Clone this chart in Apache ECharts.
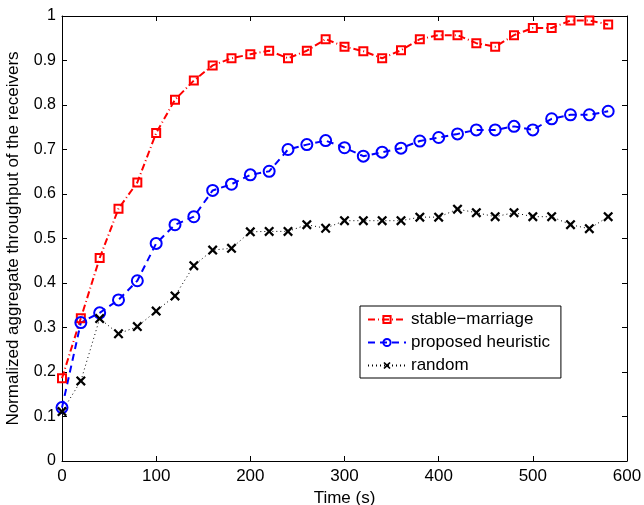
<!DOCTYPE html>
<html>
<head>
<meta charset="utf-8">
<script src="https://cdn.jsdelivr.net/npm/echarts@6/dist/echarts.min.js"></script>
<style>html,body{margin:0;padding:0;background:#fff}#c{width:644px;height:505px}</style>
</head>
<body>
<div id="c"></div>
<script>
const times = [0,20,40,60,80,100,120,140,160,180,200,220,240,260,280,300,320,340,360,380,400,420,440,460,480,500,520,540,560,580];
const stableMarriage = [0.186,0.321,0.456,0.567,0.626,0.737,0.812,0.855,0.889,0.905,0.914,0.922,0.905,0.922,0.948,0.931,0.921,0.905,0.923,0.948,0.957,0.957,0.939,0.931,0.957,0.973,0.973,0.990,0.990,0.981];
const proposedHeuristic = [0.120,0.311,0.333,0.362,0.405,0.489,0.531,0.549,0.608,0.622,0.643,0.651,0.700,0.711,0.720,0.704,0.685,0.694,0.703,0.719,0.727,0.735,0.744,0.744,0.752,0.744,0.769,0.778,0.778,0.786];
const randomSel = [0.111,0.180,0.320,0.286,0.302,0.337,0.371,0.439,0.474,0.478,0.515,0.516,0.516,0.531,0.523,0.540,0.540,0.540,0.540,0.548,0.548,0.566,0.558,0.549,0.558,0.549,0.549,0.531,0.522,0.549];
const seriesNames = ['stable\u2212marriage','proposed heuristic','random'];

const pair = arr => times.map((t,i)=>[t,arr[i]]);
const FONT = '"Liberation Sans", Arial, Helvetica, sans-serif';
const crossPath = 'path://M0,1.6L1.6,0L5,3.4L8.4,0L10,1.6L6.6,5L10,8.4L8.4,10L5,6.6L1.6,10L0,8.4L3.4,5Z';

const chart = echarts.init(document.getElementById('c'));
const axisCommon = {
  axisLine:{show:true,onZero:false,lineStyle:{color:'#000',width:1}},
  axisTick:{show:true,inside:true,length:5,lineStyle:{color:'#000'}},
  splitLine:{show:false}
};
chart.setOption({
  animation:false,
  backgroundColor:'#fff',
  textStyle:{fontFamily:FONT},
  grid:{left:62,right:17,top:16,bottom:44,containLabel:false,outerBoundsMode:'none'},
  legend:{
    orient:'vertical',left:360,top:306,
    backgroundColor:'#fff',borderColor:'#000',borderWidth:1,
    padding:[5,11,4,7],itemGap:6,itemWidth:38,itemHeight:9,
    textStyle:{fontFamily:FONT,fontSize:17,color:'#000'},
    data:seriesNames
  },
  xAxis:[
    Object.assign({type:'value',min:0,max:600,interval:100,position:'bottom',
      name:'Time (s)',nameLocation:'middle',nameGap:24,
      nameTextStyle:{fontFamily:FONT,fontSize:17,color:'#000'},
      axisLabel:{color:'#000',fontSize:17,fontFamily:FONT,margin:7}},axisCommon),
    Object.assign({type:'value',min:0,max:600,interval:100,position:'top',
      axisLabel:{show:false}},axisCommon)
  ],
  yAxis:[
    Object.assign({type:'value',min:0,max:1,interval:0.1,position:'left',
      name:'Normalized aggregate throughput of the receivers',nameLocation:'middle',nameGap:40,
      nameTextStyle:{fontFamily:FONT,fontSize:17,color:'#000'},
      axisLabel:{color:'#000',fontSize:16,fontFamily:FONT,margin:6}},axisCommon),
    Object.assign({type:'value',min:0,max:1,interval:0.1,position:'right',
      axisLabel:{show:false}},axisCommon)
  ],
  series:[
    {name:seriesNames[0],type:'line',data:pair(stableMarriage),
     symbol:'rect',symbolSize:8,
     lineStyle:{color:'#ff0000',width:2,type:[7,3,1,3]},
     itemStyle:{color:'rgba(255,255,255,0)',borderColor:'#ff0000',borderWidth:2}},
    {name:seriesNames[1],type:'line',data:pair(proposedHeuristic),
     symbol:'circle',symbolSize:11,
     lineStyle:{color:'#0000ff',width:2,type:[7,5]},
     itemStyle:{color:'rgba(255,255,255,0)',borderColor:'#0000ff',borderWidth:2}},
    {name:seriesNames[2],type:'line',data:pair(randomSel),
     symbol:crossPath,symbolSize:10,
     lineStyle:{color:'#000',width:1,type:[1,3]},
     itemStyle:{color:'#000',borderWidth:0}}
  ]
});
</script>
</body>
</html>
